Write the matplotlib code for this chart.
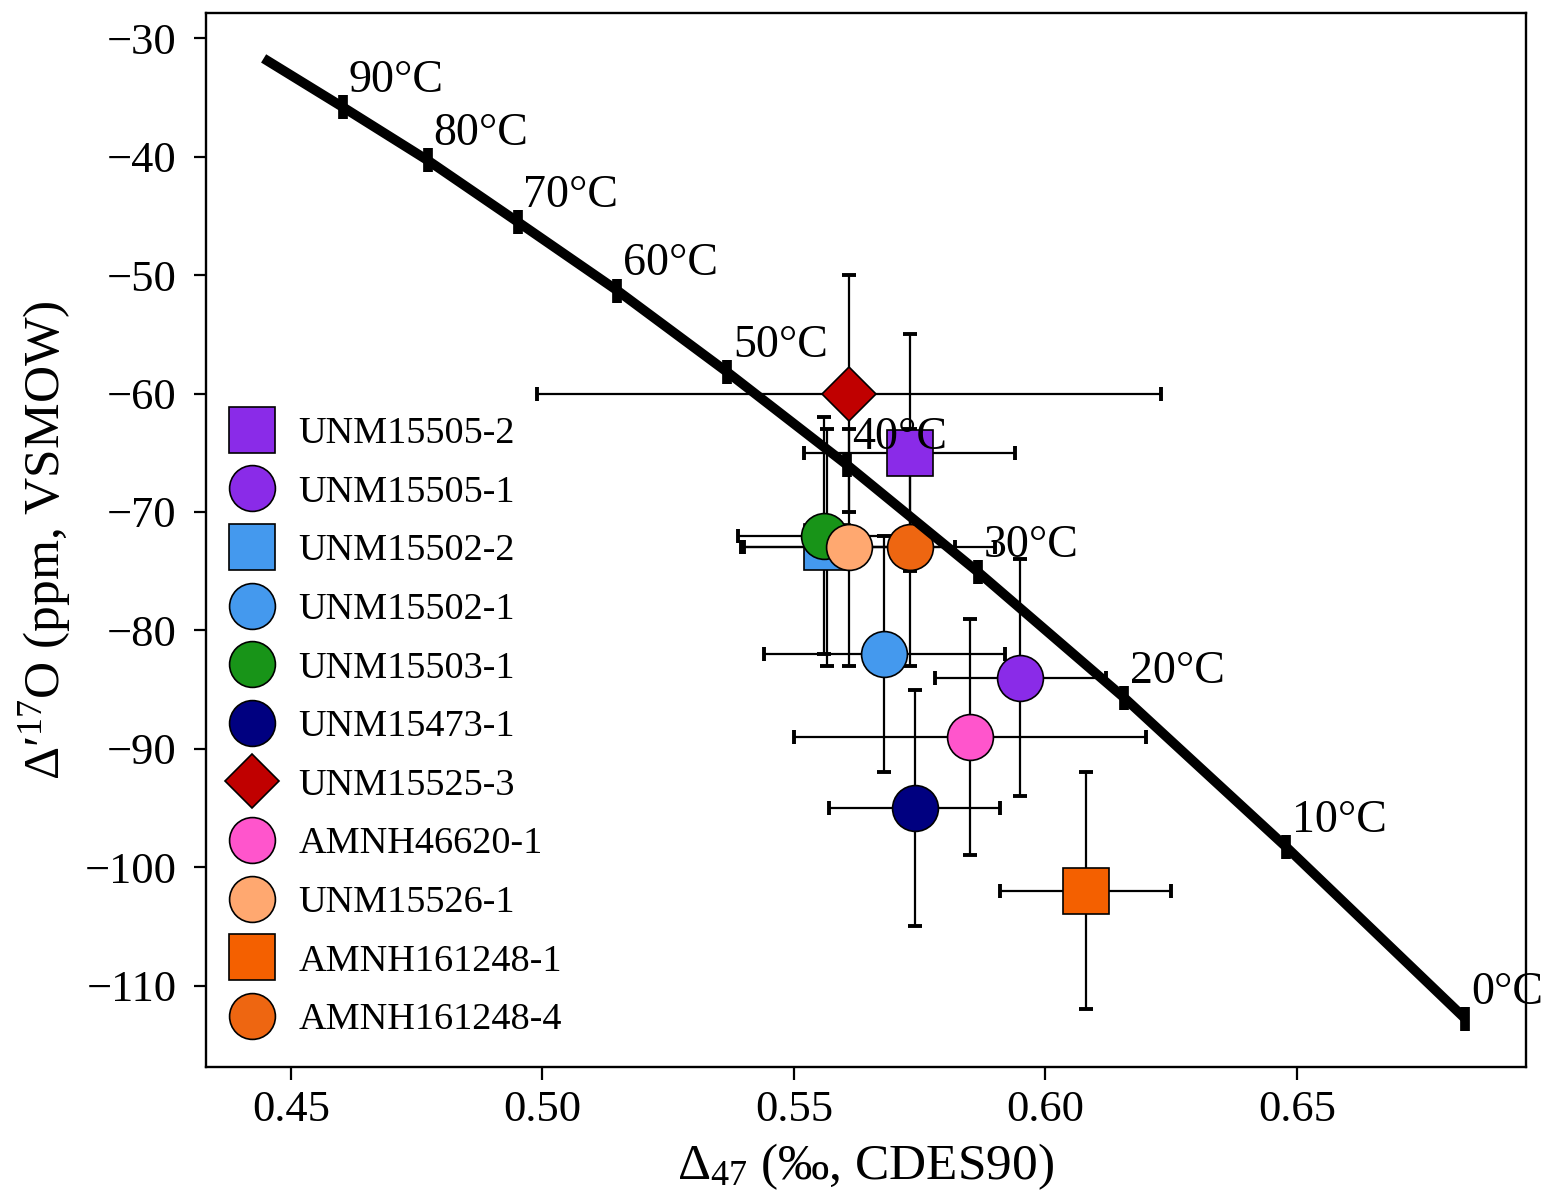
"""
D47 - D'17O calibration curve with sample measurements
"""

import matplotlib
matplotlib.use('Agg')
import matplotlib.pyplot as plt
from matplotlib.lines import Line2D

plt.rcParams['font.family'] = ['Liberation Serif', 'DejaVu Serif']
plt.rcParams['mathtext.fontset'] = 'custom'
plt.rcParams['mathtext.rm'] = 'Liberation Serif'
plt.rcParams['mathtext.it'] = 'Liberation Serif:italic'
plt.rcParams['axes.unicode_minus'] = True

# calibration curve (equilibrium), 100 -> 0 degC
curve_temp = [100, 90, 80, 70, 60, 50, 40, 30, 20, 10, 0]
curve_d47 = [0.4446, 0.4603, 0.4772, 0.4951, 0.5149, 0.5368, 0.5605, 0.5867, 0.6157, 0.6479, 0.6835]
curve_d17 = [-31.7, -35.8, -40.3, -45.5, -51.3, -58.2, -66.0, -75.1, -85.7, -98.3, -112.8]

# samples
names = ['UNM15505-2', 'UNM15505-1', 'UNM15502-2', 'UNM15502-1', 'UNM15503-1', 'UNM15473-1',
         'UNM15525-3', 'AMNH46620-1', 'UNM15526-1', 'AMNH161248-1', 'AMNH161248-4']
d47 = [0.573, 0.595, 0.5565, 0.568, 0.556, 0.574, 0.561, 0.585, 0.561, 0.608, 0.573]
d47_err = [0.021, 0.017, 0.017, 0.024, 0.017, 0.017, 0.062, 0.035, 0.021, 0.017, 0.017]
d17 = [-65, -84, -73, -82, -72, -95, -60, -89, -73, -102, -73]
d17_err = [10, 10, 10, 10, 10, 10, 10, 10, 10, 10, 10]
markers = ['s', 'o', 's', 'o', 'o', 'o', 'D', 'o', 'o', 's', 'o']
colors = ['#8a2be8', '#8a2be8', '#4499ee', '#4499ee', '#189418', '#000080',
          '#c00000', '#ff55cc', '#ffa870', '#f46000', '#ee6611']

fig = plt.figure(figsize=(15.46, 11.99), dpi=100)
ax = fig.add_axes([0.1331, 0.1104, 0.8538, 0.8790])

# error bars first, markers on top
for i in range(len(names)):
    ax.errorbar(d47[i], d17[i], xerr=d47_err[i], yerr=d17_err[i], fmt='none',
                ecolor='black', elinewidth=1.6, capsize=5, capthick=2.8, zorder=2)

handles = []
for i in range(len(names)):
    ms = 28 if markers[i] == 'D' else 33
    ax.plot(d47[i], d17[i], marker=markers[i], ms=ms, mfc=colors[i], mec='black',
            mew=1.2, ls='none', zorder=3)
    handles.append(Line2D([], [], marker=markers[i], ms=ms, mfc=colors[i], mec='black',
                          mew=1.2, ls='none'))

# calibration line + temperature ticks
ax.plot(curve_d47, curve_d17, color='black', lw=7, solid_capstyle='butt', zorder=4)
ax.plot(curve_d47[1:], curve_d17[1:], marker='|', ms=17, mew=7, color='black',
        ls='none', zorder=5)
for t, x, y in zip(curve_temp[1:], curve_d47[1:], curve_d17[1:]):
    ax.annotate(f'{t}°C', (x, y), xytext=(4, 19), textcoords='offset points',
                ha='left', va='center', fontsize=33, zorder=6)

ax.set_xlim(0.4331, 0.6955)
ax.set_ylim(-116.84, -27.84)
ax.set_xticks([0.45, 0.50, 0.55, 0.60, 0.65])
ax.set_xticklabels(['0.45', '0.50', '0.55', '0.60', '0.65'])
ax.set_yticks([-30, -40, -50, -60, -70, -80, -90, -100, -110])
ax.tick_params(axis='both', labelsize=32, length=9, width=1.6, direction='out')
ax.tick_params(axis='y', pad=12)
ax.tick_params(axis='x', pad=8)
for sp in ax.spines.values():
    sp.set_linewidth(1.7)

ax.set_xlabel('Δ$_{47}$ (‰, CDES90)', fontsize=37, labelpad=8)
ax.set_ylabel('Δ′$^{17}$O (ppm, VSMOW)', fontsize=37, labelpad=8)

ax.legend(handles, names, loc='upper left', bbox_to_anchor=(0.018, 0.617),
          frameon=False, fontsize=27.5, borderpad=0, borderaxespad=0,
          handlelength=1.2, handletextpad=0.6, labelspacing=0.625, numpoints=1)

plt.savefig('out.png', dpi=100)
